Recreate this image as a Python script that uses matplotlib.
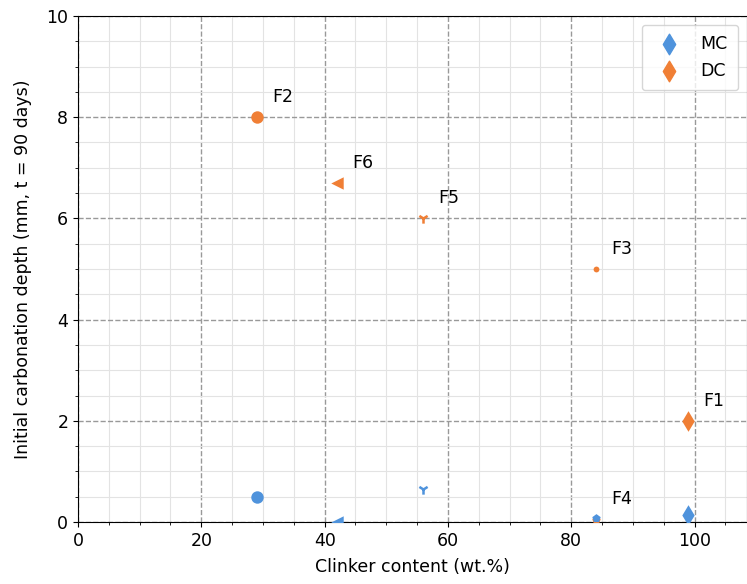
import matplotlib
matplotlib.use("Agg")
import matplotlib.pyplot as plt
from matplotlib.ticker import MultipleLocator

# mix designs, clinker content and initial carbonation depth
mixes = ["F1", "F2", "F3", "F4", "F5", "F6"]
clinker = [99, 29, 84, 84, 56, 42]
depth_mc = [0.15, 0.5, 0.08, 0.08, 0.65, 0.0]
depth_dc = [2.0, 8.0, 5.0, 0.05, 6.0, 6.7]
markers = ["d", "o", ".", "p", "1", "<"]
sizes = [110, 80, 70, 40, 55, 80]

blue = "#4f93dc"
orange = "#f07f35"

fig = plt.figure(figsize=(7.47, 5.84), dpi=100)
ax = fig.add_axes([0.1044, 0.106, 0.8956, 0.8667])

for name, x, ym, yd, m, s in zip(mixes, clinker, depth_mc, depth_dc, markers, sizes):
    lw = 1.8 if m == "1" else 0
    ax.scatter(x, yd, marker=m, s=s, color=orange, linewidths=lw, zorder=3)
    ax.scatter(x, ym, marker=m, s=s, color=blue, linewidths=lw, zorder=4)
    ax.annotate(name, (x, yd), xytext=(11, 8), textcoords="offset points",
                fontsize=12.5, va="bottom")

# legend proxies
ax.scatter([], [], marker="d", s=110, color=blue, label="MC")
ax.scatter([], [], marker="d", s=110, color=orange, label="DC")
ax.legend(loc="upper right", fontsize=12.5, borderpad=0.6)

ax.set_xlim(0, 108.5)
ax.set_ylim(0, 10)
ax.xaxis.set_major_locator(MultipleLocator(20))
ax.xaxis.set_minor_locator(MultipleLocator(5))
ax.yaxis.set_major_locator(MultipleLocator(2))
ax.yaxis.set_minor_locator(MultipleLocator(0.5))
ax.grid(which="major", linestyle="--", color="#999999", linewidth=1)
ax.grid(which="minor", linestyle="-", color="#e3e3e3", linewidth=0.8)
ax.set_axisbelow(True)
ax.tick_params(labelsize=12.5)

ax.set_xlabel("Clinker content (wt.%)", fontsize=12.5, labelpad=6)
ax.set_ylabel("Initial carbonation depth (mm, t = 90 days)", fontsize=12.5,
              labelpad=10)

plt.savefig("out.png", dpi=100)
plt.close(fig)
